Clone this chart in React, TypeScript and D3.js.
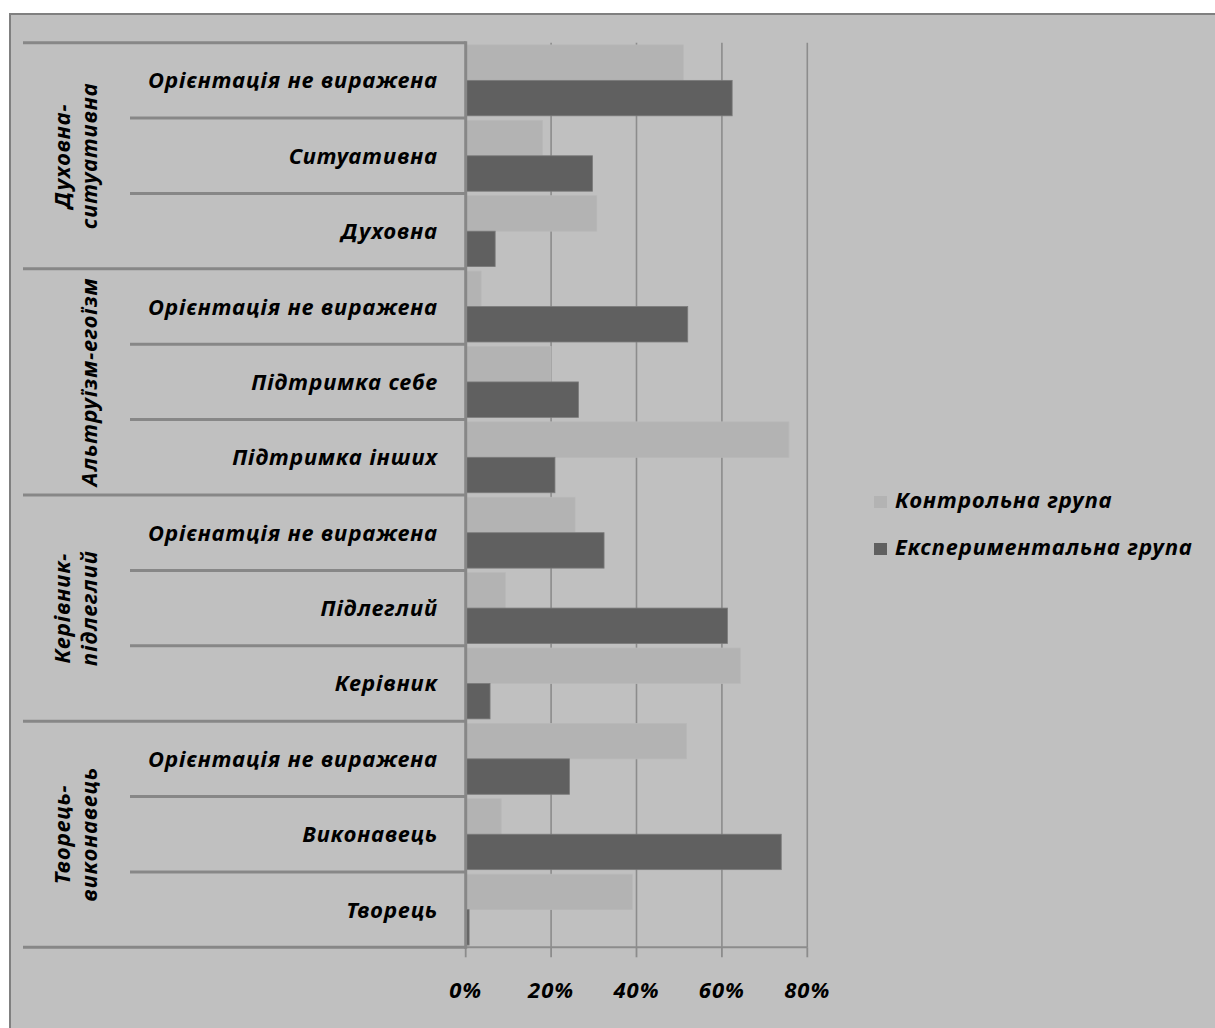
import React from 'react';
import * as d3 from 'd3';

// Category rows, top to bottom
const categories = [
  'Орієнтація не виражена',
  'Ситуативна',
  'Духовна',
  'Орієнтація не виражена',
  'Підтримка себе',
  'Підтримка інших',
  'Орієнатція не виражена',
  'Підлеглий',
  'Керівник',
  'Орієнтація не виражена',
  'Виконавець',
  'Творець',
];

// Outer grouping of the rows (each group spans three categories)
const groupLabels: string[][] = [
  ['Духовна-', 'ситуативна'],
  ['Альтруїзм-егоїзм'],
  ['Керівник-', 'підлеглий'],
  ['Творець-', 'виконавець'],
];
const groupSizes = [3, 3, 3, 3];

// Series, in percent
const seriesNames = ['Контрольна група', 'Експериментальна група'];
const controlValues = [51, 18, 30.7, 3.6, 20, 75.7, 25.6, 9.3, 64.3, 51.7, 8.3, 39];
const experimentalValues = [62.4, 29.7, 6.9, 52, 26.4, 20.9, 32.4, 61.3, 5.7, 24.3, 73.9, 0.8];

const xTicks = [0, 20, 40, 60, 80];

const W = 1215;
const H = 1028;
const FONT = '"Noto Sans", "Open Sans", "DejaVu Sans", sans-serif';
const BG = '#c0c0c0';
const LIGHT = '#b3b3b3';
const DARK = '#606060';
const LINE = '#878787';
const GRID = '#8c8c8c';

export default function App() {
  const plotTop = 42.7;
  const plotBottom = 947.3;
  const tableLeft = 23;
  const catLeft = 130;

  const x = d3.scaleLinear().domain([0, 80]).range([465.7, 807.3]);
  const y = d3
    .scaleBand<number>()
    .domain(categories.map((_, i) => i))
    .range([plotTop, plotBottom])
    .paddingInner(0.06)
    .paddingOuter(0.03);
  const step = y.step();
  const half = y.bandwidth() / 2;
  const x0 = x(0);

  // Row boundaries (between categories)
  const rowEdge = (i: number) => plotTop + i * step;

  // Group boundaries
  const groupStarts: number[] = [];
  let acc = 0;
  groupSizes.forEach((s) => {
    groupStarts.push(acc);
    acc += s;
  });
  const groupStartSet = new Set(groupStarts);

  const textStyle = {
    fontFamily: FONT,
    fontWeight: 700,
    fontStyle: 'italic' as const,
    fontSize: 22,
    letterSpacing: 1,
    fill: '#000',
  };

  return (
    <svg
      width={W}
      height={H}
      viewBox={`0 0 ${W} ${H}`}
      style={{ position: 'absolute', left: 0, top: 0, display: 'block' }}
    >
      <rect x={0} y={0} width={W} height={H} fill="#fff" />
      <rect x={10} y={14} width={W + 20} height={H + 20} fill={BG} stroke="#808080" strokeWidth={2} />

      {/* vertical gridlines */}
      {xTicks
        .filter((t) => t > 0)
        .map((t) => (
          <line key={`g${t}`} x1={x(t)} x2={x(t)} y1={plotTop} y2={plotBottom} stroke={GRID} strokeWidth={1.6} />
        ))}

      {/* bars */}
      {categories.map((_, i) => (
        <g key={`b${i}`}>
          <rect
            x={x0}
            y={(y(i) as number)}
            width={x(controlValues[i]) - x0}
            height={half}
            fill={LIGHT}
            stroke="#b8b8b8"
            strokeWidth={0.8}
          />
          <rect
            x={x0}
            y={(y(i) as number) + half}
            width={x(experimentalValues[i]) - x0}
            height={half}
            fill={DARK}
            stroke="#7a7a7a"
            strokeWidth={0.8}
          />
        </g>
      ))}

      {/* table lines on the category side */}
      {d3.range(categories.length + 1).map((i) => (
        <line
          key={`r${i}`}
          x1={groupStartSet.has(i) || i === categories.length ? tableLeft : catLeft}
          x2={x0}
          y1={rowEdge(i)}
          y2={rowEdge(i)}
          stroke={LINE}
          strokeWidth={3}
        />
      ))}

      {/* bottom axis line and ticks */}
      <line x1={x0} x2={x(80)} y1={plotBottom} y2={plotBottom} stroke={GRID} strokeWidth={2} />
      {xTicks.map((t) => (
        <line key={`t${t}`} x1={x(t)} x2={x(t)} y1={plotBottom} y2={plotBottom + 10} stroke={GRID} strokeWidth={1.8} />
      ))}
      <line x1={x0} x2={x0} y1={plotTop - 1.5} y2={plotBottom + 1.5} stroke={LINE} strokeWidth={3} />

      {/* category labels */}
      {categories.map((c, i) => (
        <text
          key={`c${i}`}
          x={438}
          y={(y(i) as number) + y.bandwidth() / 2 + 8}
          textAnchor="end"
          style={textStyle}
        >
          {c}
        </text>
      ))}

      {/* group labels, rotated */}
      {groupLabels.map((lines, g) => {
        const start = rowEdge(groupStarts[g]);
        const end = rowEdge(groupStarts[g] + groupSizes[g]);
        const cy = (start + end) / 2;
        const baselines = lines.length === 2 ? [70, 97] : [97];
        return (
          <g key={`gl${g}`}>
            {lines.map((ln, k) => (
              <text
                key={k}
                transform={`translate(${baselines[k]},${cy}) rotate(-90)`}
                textAnchor="middle"
                style={textStyle}
              >
                {ln}
              </text>
            ))}
          </g>
        );
      })}

      {/* x tick labels */}
      {xTicks.map((t) => (
        <text key={`xl${t}`} x={x(t)} y={998} textAnchor="middle" style={textStyle}>
          {`${t}%`}
        </text>
      ))}

      {/* legend */}
      {seriesNames.map((s, k) => (
        <g key={`lg${k}`}>
          <rect x={874} y={496 + k * 47} width={13} height={12} fill={k === 0 ? LIGHT : DARK} />
          <text x={895} y={508 + k * 47} style={textStyle}>
            {s}
          </text>
        </g>
      ))}
    </svg>
  );
}
